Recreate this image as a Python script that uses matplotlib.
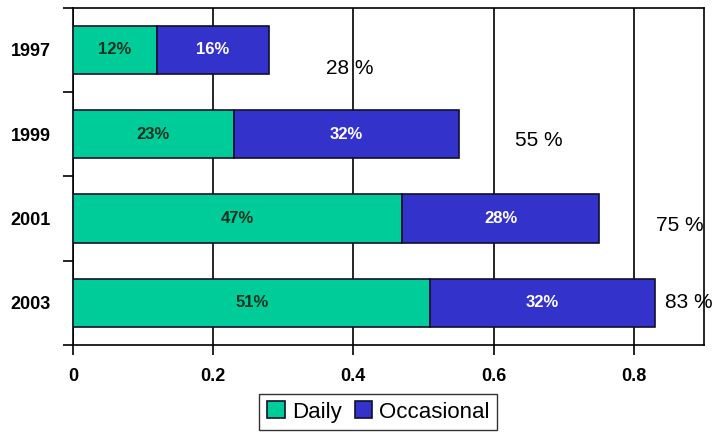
import matplotlib.pyplot as plt
import numpy as np

# survey data (share of users)
years = ['1997', '1999', '2001', '2003']
daily = [0.12, 0.23, 0.47, 0.51]
occasional = [0.16, 0.32, 0.28, 0.32]

green = '#00CC99'
blue = '#3333CC'
fam = ['Liberation Sans Narrow', 'Liberation Sans', 'DejaVu Sans']

fig = plt.figure(figsize=(7.14, 4.36), dpi=100)
ax = fig.add_axes([0.102, 0.209, 0.884, 0.773])

y = np.arange(len(years))
totals = np.array(daily) + np.array(occasional)

b1 = ax.barh(y, daily, height=0.57, color=green, edgecolor='#101030', linewidth=1.2, label='Daily', zorder=3)
b2 = ax.barh(y, occasional, left=daily, height=0.57, color=blue, edgecolor='#101030', linewidth=1.2, label='Occasional', zorder=3)

for i in range(len(years)):
    ax.text(daily[i] / 2, y[i], '%d%%' % round(daily[i] * 100), ha='center', va='center',
            fontsize=12, fontweight='bold', color='#103020', family=fam, zorder=4)
    ax.text(daily[i] + occasional[i] / 2, y[i], '%d%%' % round(occasional[i] * 100), ha='center', va='center',
            fontsize=12, fontweight='bold', color='white', family=fam, zorder=4)

# totals floating to the right of each bar
dy = [0.22, 0.07, 0.08, 0.0]
for i, t in enumerate(totals):
    ax.text(min(t + 0.115, 0.879), y[i] + dy[i], '%d %%' % round(t * 100), ha='center', va='center',
            fontsize=15, color='black', family=fam)

ax.set_xlim(0, 0.9)
ax.set_ylim(len(years) - 0.5, -0.5)
ax.set_xticks([0, 0.2, 0.4, 0.6, 0.8])
ax.set_xticklabels(['0', '0.2', '0.4', '0.6', '0.8'])
ax.set_yticks(y)
ax.set_yticklabels(years)
ax.set_yticks(np.arange(-0.5, len(years), 1.0), minor=True)
ax.tick_params(axis='y', which='major', length=0, pad=16)
ax.tick_params(axis='y', which='minor', length=7, width=1.2)
ax.tick_params(axis='x', length=7, width=1.2, pad=10)
for lab in ax.get_xticklabels() + ax.get_yticklabels():
    lab.set_fontweight('bold')
    lab.set_fontsize(13)
    lab.set_family(fam)

ax.grid(axis='x', color='black', linewidth=1.2, zorder=0)
for s in ax.spines.values():
    s.set_linewidth(1.2)
    s.set_color('black')

fig.legend(handles=[b1, b2], loc='center', bbox_to_anchor=(0.53, 0.055), ncol=2,
           frameon=True, fancybox=False, edgecolor='black', handlelength=0.8, handleheight=0.8,
           handletextpad=0.3, columnspacing=0.6, borderpad=0.35,
           prop={'family': fam, 'size': 16})

plt.savefig('out.png', dpi=100)
